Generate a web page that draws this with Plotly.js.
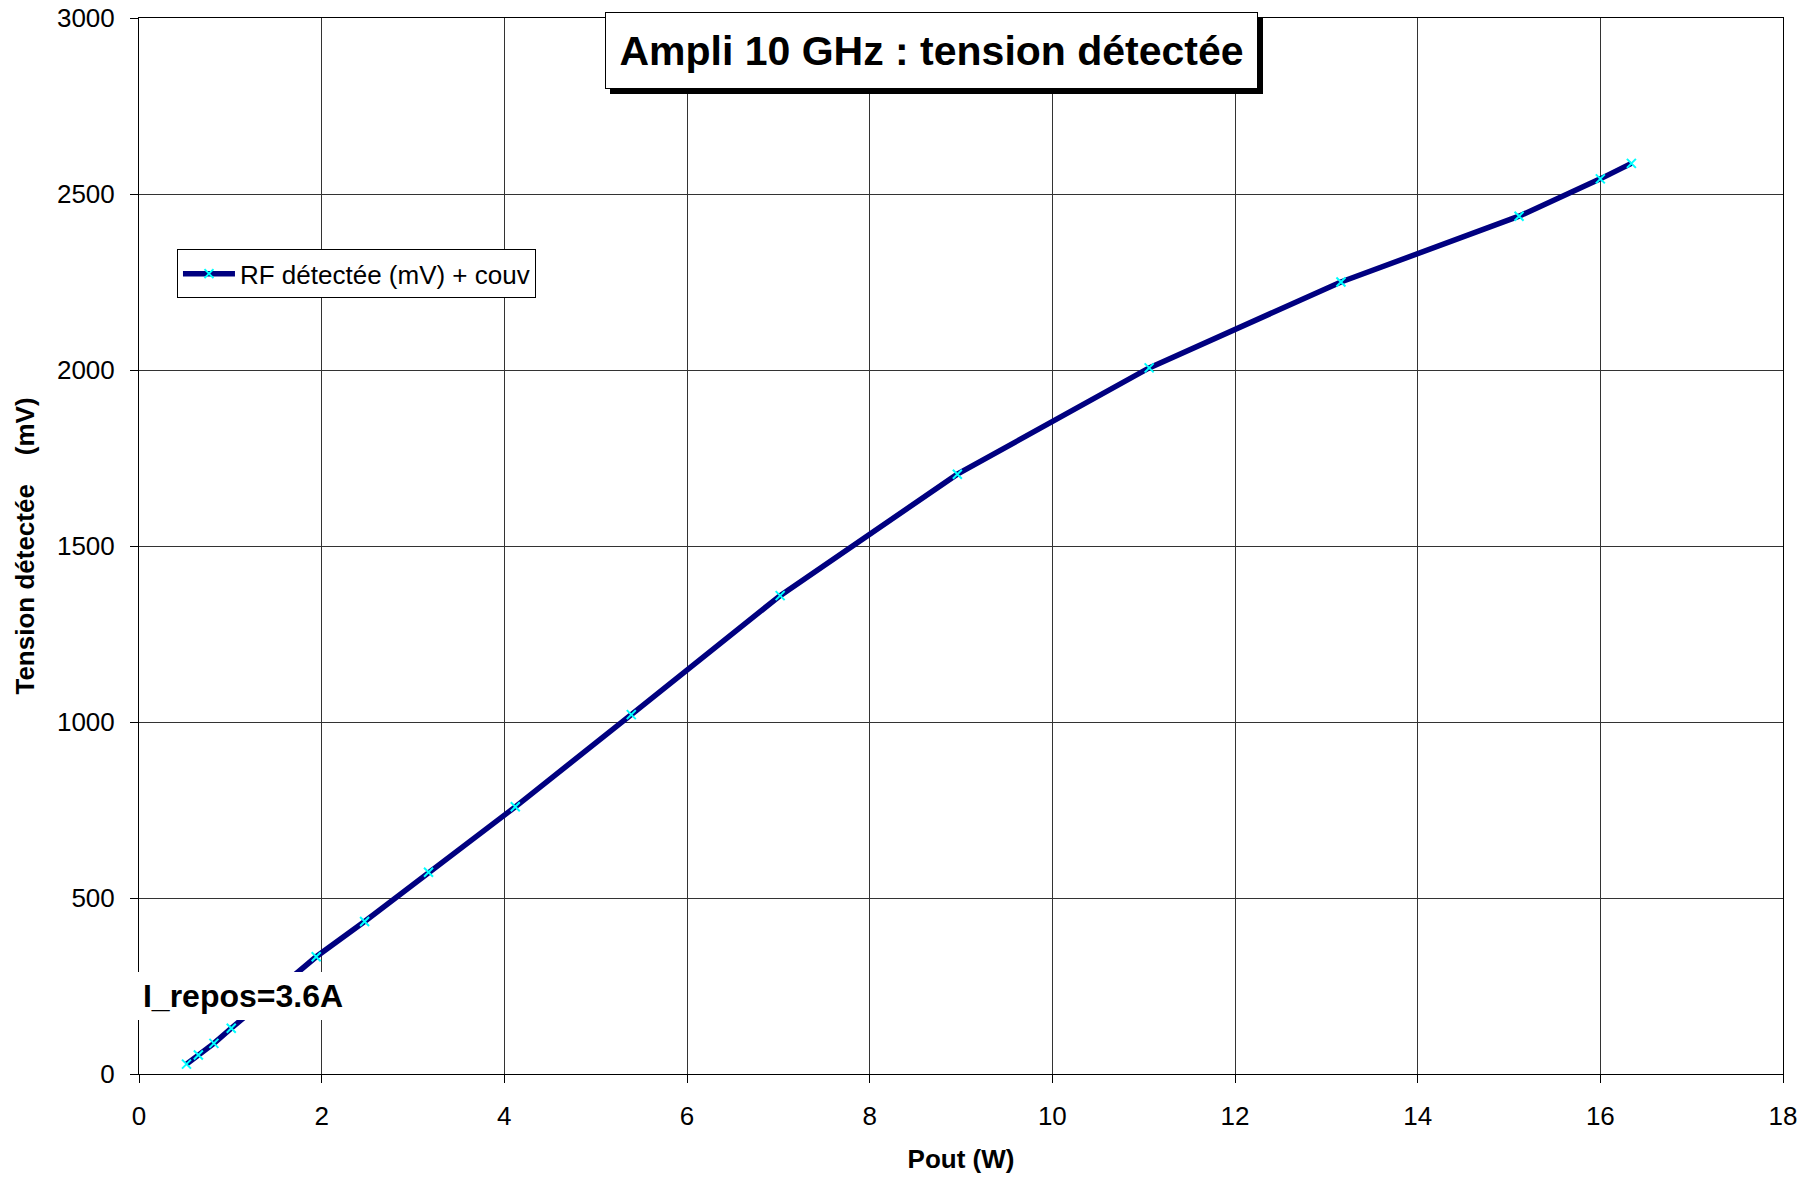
<!DOCTYPE html>
<html>
<head>
<meta charset="utf-8">
<script src="https://cdn.plot.ly/plotly-3.0.1.min.js"></script>
<style>
  html, body { margin: 0; padding: 0; background: #fff; }
  #chart { width: 1813px; height: 1178px; }
</style>
</head>
<body>
<div id="chart"></div>
<script>
// Data
const poutW = [0.52, 0.65, 0.82, 1.01, 1.94, 2.47, 3.17, 4.12, 5.39, 7.02, 8.96, 11.06, 13.16, 15.11, 16.00, 16.34];
const tensionMv = [28, 54, 87, 130, 333, 433, 573, 759, 1021, 1359, 1704, 2006, 2250, 2437, 2543, 2587];
const seriesName = 'RF détectée (mV) + couv';
const chartTitle = 'Ampli 10 GHz : tension détectée';
const noteText = 'I_repos=3.6A';
const xTitle = 'Pout (W)';
const yTitle = 'Tension détectée \u00a0\u00a0 (mV)';

const FONT = 'Liberation Sans, Arial, Helvetica, sans-serif';

const trace = {
  x: poutW,
  y: tensionMv,
  name: seriesName,
  type: 'scatter',
  mode: 'lines+markers',
  line: { color: '#000080', width: 5.5 },
  marker: { symbol: 'x-thin', size: 9, color: '#00ffff', line: { color: '#00ffff', width: 2 } },
  showlegend: true
};

const layout = {
  width: 1813,
  height: 1178,
  paper_bgcolor: '#ffffff',
  plot_bgcolor: '#ffffff',
  margin: { l: 139, r: 30, t: 18, b: 104, pad: 0 },
  font: { family: FONT, color: '#000000', size: 26 },
  xaxis: {
    range: [0, 18],
    dtick: 2,
    tick0: 0,
    showgrid: true,
    gridcolor: '#333333',
    gridwidth: 1,
    zeroline: false,
    showline: true,
    mirror: true,
    linecolor: '#000000',
    linewidth: 1,
    ticks: 'outside',
    ticklen: 8,
    tickcolor: '#000000',
    ticklabelstandoff: 11,
    tickfont: { family: FONT, size: 26, color: '#000' },
    automargin: false,
    title: { text: xTitle, font: { family: FONT, size: 26, color: '#000', weight: 'bold' }, standoff: 19 }
  },
  yaxis: {
    range: [0, 3000],
    dtick: 500,
    tick0: 0,
    showgrid: true,
    gridcolor: '#333333',
    gridwidth: 1,
    zeroline: false,
    showline: true,
    mirror: true,
    linecolor: '#000000',
    linewidth: 1,
    ticks: 'outside',
    ticklen: 8,
    tickcolor: '#000000',
    ticklabelstandoff: 10,
    tickfont: { family: FONT, size: 26, color: '#000' },
    automargin: false,
    title: { text: yTitle, font: { family: FONT, size: 26, color: '#000', weight: 'bold' }, standoff: 14 }
  },
  legend: {
    x: 0.0231,
    y: 0.781,
    xanchor: 'left',
    yanchor: 'top',
    bgcolor: '#ffffff',
    bordercolor: '#000000',
    borderwidth: 1,
    itemwidth: 52,
    font: { family: FONT, size: 26, color: '#000' },
    tracegroupgap: 0
  },
  annotations: [
    {
      xref: 'paper', yref: 'paper', x: 0.482, y: 0.9694,
      xanchor: 'center', yanchor: 'middle',
      text: '\u00a0', showarrow: false,
      font: { family: FONT, size: 41, color: '#000' },
      bgcolor: '#000000', bordercolor: '#000000', borderwidth: 1, borderpad: 0,
      width: 651, height: 75, xshift: 5, yshift: -5
    },
    {
      xref: 'paper', yref: 'paper', x: 0.482, y: 0.9694,
      xanchor: 'center', yanchor: 'middle',
      text: '<b>' + chartTitle + '</b>', showarrow: false,
      font: { family: FONT, size: 41, color: '#000' },
      bgcolor: '#ffffff', bordercolor: '#000000', borderwidth: 1, borderpad: 0,
      width: 651, height: 75
    },
    {
      xref: 'paper', yref: 'paper', x: 0.0633, y: 0.0739,
      xanchor: 'center', yanchor: 'middle',
      text: '<b>' + noteText + '</b>', showarrow: false,
      font: { family: FONT, size: 32, color: '#000' },
      bgcolor: '#ffffff', borderwidth: 0, borderpad: 0,
      width: 226, height: 48
    }
  ]
};

Plotly.newPlot('chart', [trace], layout, { displayModeBar: false, staticPlot: true });
</script>
</body>
</html>
